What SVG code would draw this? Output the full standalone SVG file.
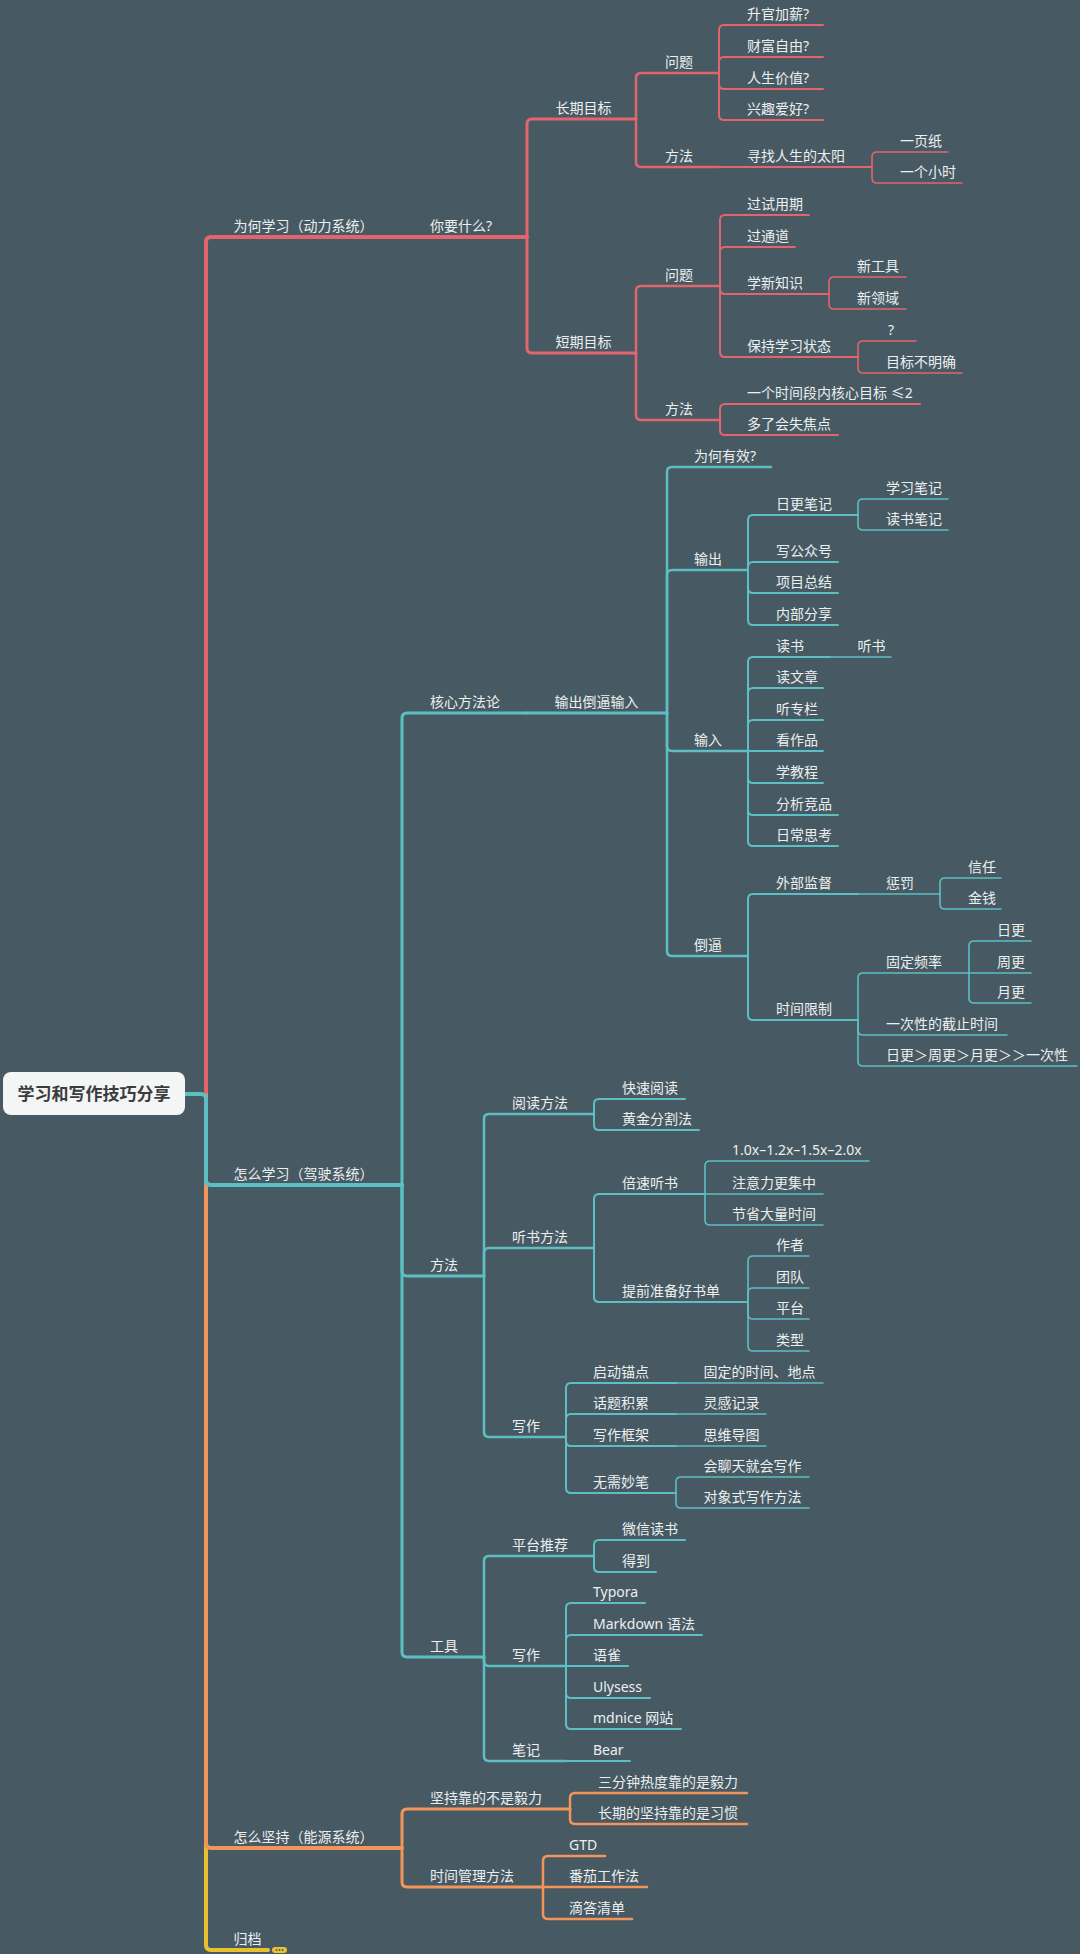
<svg xmlns="http://www.w3.org/2000/svg" width="1080" height="1954" viewBox="0 0 1080 1954">
<style>
path{fill:none;stroke-linecap:round;stroke-linejoin:round}
.r{stroke:#e2646c}.t{stroke:#5cbfc4}.o{stroke:#f2955c}.y{stroke:#e9c02f}
.w4{stroke-width:4}.w3{stroke-width:3}.w25{stroke-width:2.5}.w2{stroke-width:2}.w15{stroke-width:1.6}
text{font-family:"Noto Sans","Noto Sans CJK SC",sans-serif;font-size:14px;fill:#eceff0}
.root{font-size:17px;fill:#3a3d40;font-weight:bold;text-anchor:middle}
</style>
<rect width="1080" height="1954" fill="#475a63"/>
<g id="connectors">
<path class="y w4" d="M206 1094 V1945 Q206 1950 211 1950 H268"/>
<rect x="272" y="1947" width="15" height="6" rx="3" fill="#e9c02f"/>
<circle cx="276.5" cy="1950" r="0.9" fill="#475a63"/><circle cx="279.5" cy="1950" r="0.9" fill="#475a63"/><circle cx="282.5" cy="1950" r="0.9" fill="#475a63"/>
<path class="o w4" d="M206 1094 V1843 Q206 1848 211 1848 H402"/>
<path class="o w3" d="M402 1848 V1814 Q402 1809 407 1809 H570"/>
<path class="o w3" d="M402 1848 V1882 Q402 1887 407 1887 H543"/>
<path class="o w25" d="M570 1809 V1798 Q570 1793 575 1793 H747"/>
<path class="o w25" d="M570 1809 V1819 Q570 1824 575 1824 H747"/>
<path class="o w25" d="M543 1887 V1861 Q543 1856 548 1856 H605"/>
<path class="o w25" d="M543 1887 H647"/>
<path class="o w25" d="M543 1887 V1914 Q543 1919 548 1919 H632"/>
<path class="t w4" d="M185 1094 H201 Q206 1094 206 1099 V1180 Q206 1185 211 1185 H402"/>
<path class="t w3" d="M402 1185 V718 Q402 713 407 713 H527"/>
<path class="t w3" d="M402 1185 V1271 Q402 1276 407 1276 H484"/>
<path class="t w3" d="M402 1185 V1652 Q402 1657 407 1657 H484"/>
<path class="t w3" d="M527 713 H667"/>
<path class="t w25" d="M667 713 V472 Q667 467 672 467 H771"/>
<path class="t w25" d="M667 713 V575 Q667 570 672 570 H748"/>
<path class="t w25" d="M667 713 V746 Q667 751 672 751 H748"/>
<path class="t w25" d="M667 713 V951 Q667 956 672 956 H748"/>
<path class="t w2" d="M748 570 V520 Q748 515 753 515 H858"/>
<path class="t w2" d="M748 570 V567 Q748 562 753 562 H838"/>
<path class="t w2" d="M748 570 V588 Q748 593 753 593 H838"/>
<path class="t w2" d="M748 570 V620 Q748 625 753 625 H838"/>
<path class="t w15" d="M858 515 V504 Q858 499 863 499 H948"/>
<path class="t w15" d="M858 515 V525 Q858 530 863 530 H948"/>
<path class="t w2" d="M748 751 V662 Q748 657 753 657 H830"/>
<path class="t w15" d="M830 657 H891"/>
<path class="t w2" d="M748 751 V693 Q748 688 753 688 H823"/>
<path class="t w2" d="M748 751 V725 Q748 720 753 720 H823"/>
<path class="t w2" d="M748 751 H823"/>
<path class="t w2" d="M748 751 V778 Q748 783 753 783 H823"/>
<path class="t w2" d="M748 751 V810 Q748 815 753 815 H838"/>
<path class="t w2" d="M748 751 V841 Q748 846 753 846 H838"/>
<path class="t w2" d="M748 956 V899 Q748 894 753 894 H858"/>
<path class="t w15" d="M858 894 H940"/>
<path class="t w15" d="M940 894 V883 Q940 878 945 878 H1001"/>
<path class="t w15" d="M940 894 V904 Q940 909 945 909 H1001"/>
<path class="t w2" d="M748 956 V1015 Q748 1020 753 1020 H858"/>
<path class="t w15" d="M858 1020 V978 Q858 973 863 973 H969"/>
<path class="t w15" d="M858 1020 V1030 Q858 1035 863 1035 H1007"/>
<path class="t w15" d="M858 1020 V1061 Q858 1066 863 1066 H1077"/>
<path class="t w15" d="M969 973 V946 Q969 941 974 941 H1031"/>
<path class="t w15" d="M969 973 H1031"/>
<path class="t w15" d="M969 973 V998 Q969 1003 974 1003 H1031"/>
<path class="t w25" d="M484 1276 V1119 Q484 1114 489 1114 H594"/>
<path class="t w25" d="M484 1276 V1253 Q484 1248 489 1248 H594"/>
<path class="t w25" d="M484 1276 V1432 Q484 1437 489 1437 H566"/>
<path class="t w2" d="M594 1114 V1104 Q594 1099 599 1099 H685"/>
<path class="t w2" d="M594 1114 V1125 Q594 1130 599 1130 H699"/>
<path class="t w2" d="M594 1248 V1199 Q594 1194 599 1194 H705"/>
<path class="t w2" d="M594 1248 V1297 Q594 1302 599 1302 H748"/>
<path class="t w15" d="M705 1194 V1166 Q705 1161 710 1161 H869"/>
<path class="t w15" d="M705 1194 H823"/>
<path class="t w15" d="M705 1194 V1220 Q705 1225 710 1225 H823"/>
<path class="t w15" d="M748 1302 V1261 Q748 1256 753 1256 H809"/>
<path class="t w15" d="M748 1302 V1293 Q748 1288 753 1288 H809"/>
<path class="t w15" d="M748 1302 V1314 Q748 1319 753 1319 H809"/>
<path class="t w15" d="M748 1302 V1346 Q748 1351 753 1351 H809"/>
<path class="t w2" d="M566 1437 V1388 Q566 1383 571 1383 H676"/>
<path class="t w15" d="M676 1383 H823"/>
<path class="t w2" d="M566 1437 V1419 Q566 1414 571 1414 H676"/>
<path class="t w15" d="M676 1414 H766"/>
<path class="t w2" d="M566 1437 V1441 Q566 1446 571 1446 H676"/>
<path class="t w15" d="M676 1446 H766"/>
<path class="t w2" d="M566 1437 V1488 Q566 1493 571 1493 H676"/>
<path class="t w15" d="M676 1493 V1482 Q676 1477 681 1477 H809"/>
<path class="t w15" d="M676 1493 V1503 Q676 1508 681 1508 H809"/>
<path class="t w25" d="M484 1657 V1561 Q484 1556 489 1556 H594"/>
<path class="t w25" d="M484 1657 V1661 Q484 1666 489 1666 H566"/>
<path class="t w25" d="M484 1657 V1756 Q484 1761 489 1761 H566"/>
<path class="t w2" d="M566 1761 H630"/>
<path class="t w2" d="M594 1556 V1545 Q594 1540 599 1540 H685"/>
<path class="t w2" d="M594 1556 V1567 Q594 1572 599 1572 H656"/>
<path class="t w2" d="M566 1666 V1608 Q566 1603 571 1603 H645"/>
<path class="t w2" d="M566 1666 V1640 Q566 1635 571 1635 H702"/>
<path class="t w2" d="M566 1666 H628"/>
<path class="t w2" d="M566 1666 V1693 Q566 1698 571 1698 H650"/>
<path class="t w2" d="M566 1666 V1724 Q566 1729 571 1729 H681"/>
<path class="r w4" d="M206 1092 V242 Q206 237 211 237 H402"/>
<path class="r w4" d="M402 237 H527"/>
<path class="r w3" d="M527 237 V124 Q527 119 532 119 H636"/>
<path class="r w3" d="M527 237 V348 Q527 353 532 353 H636"/>
<path class="r w25" d="M636 119 V78 Q636 73 641 73 H719"/>
<path class="r w25" d="M636 119 V162 Q636 167 641 167 H719"/>
<path class="r w2" d="M719 73 V30 Q719 25 724 25 H823"/>
<path class="r w2" d="M719 73 V62 Q719 57 724 57 H823"/>
<path class="r w2" d="M719 73 V84 Q719 89 724 89 H823"/>
<path class="r w2" d="M719 73 V115 Q719 120 724 120 H823"/>
<path class="r w2" d="M719 167 H872"/>
<path class="r w15" d="M872 167 V157 Q872 152 877 152 H948"/>
<path class="r w15" d="M872 167 V178 Q872 183 877 183 H962"/>
<path class="r w25" d="M636 353 V291 Q636 286 641 286 H720"/>
<path class="r w25" d="M636 353 V415 Q636 420 641 420 H720"/>
<path class="r w2" d="M720 286 V220 Q720 215 725 215 H809"/>
<path class="r w2" d="M720 286 V252 Q720 247 725 247 H795"/>
<path class="r w2" d="M720 286 V289 Q720 294 725 294 H829"/>
<path class="r w2" d="M720 286 V352 Q720 357 725 357 H858"/>
<path class="r w15" d="M829 294 V282 Q829 277 834 277 H906"/>
<path class="r w15" d="M829 294 V304 Q829 309 834 309 H906"/>
<path class="r w15" d="M858 357 V346 Q858 341 863 341 H916"/>
<path class="r w15" d="M858 357 V368 Q858 373 863 373 H962"/>
<path class="r w2" d="M720 420 V409 Q720 404 725 404 H920"/>
<path class="r w2" d="M720 420 V430 Q720 435 725 435 H838"/>
</g>
<g id="root"><rect x="3" y="1072" width="182" height="43" rx="8" fill="#f4f5f5"/><text class="root" x="94" y="1100">学习和写作技巧分享</text></g>
<g id="n-why"><text x="233.5" y="231">为何学习（动力系统）</text></g>
<g id="n-want"><text x="430" y="231">你要什么?</text></g>
<g id="n-long"><text x="555.5" y="113">长期目标</text></g>
<g id="n-long-q"><text x="665" y="67">问题</text></g>
<g id="n-lq1"><text x="747" y="19">升官加薪?</text></g>
<g id="n-lq2"><text x="747" y="51">财富自由?</text></g>
<g id="n-lq3"><text x="747" y="83">人生价值?</text></g>
<g id="n-lq4"><text x="747" y="114">兴趣爱好?</text></g>
<g id="n-long-m"><text x="665" y="161">方法</text></g>
<g id="n-sun"><text x="747" y="161">寻找人生的太阳</text></g>
<g id="n-paper"><text x="900" y="146">一页纸</text></g>
<g id="n-hour"><text x="900" y="177">一个小时</text></g>
<g id="n-short"><text x="555.5" y="347">短期目标</text></g>
<g id="n-short-q"><text x="665" y="280">问题</text></g>
<g id="n-sq1"><text x="747" y="209">过试用期</text></g>
<g id="n-sq2"><text x="747" y="241">过通道</text></g>
<g id="n-sq3"><text x="747" y="288">学新知识</text></g>
<g id="n-tool"><text x="857" y="271">新工具</text></g>
<g id="n-field"><text x="857" y="303">新领域</text></g>
<g id="n-sq4"><text x="747" y="351">保持学习状态</text></g>
<g id="n-qm"><text x="888" y="335">?</text></g>
<g id="n-unclear"><text x="886" y="367">目标不明确</text></g>
<g id="n-short-m"><text x="665" y="414">方法</text></g>
<g id="n-sm1"><text x="747" y="398">一个时间段内核心目标 ≤2</text></g>
<g id="n-sm2"><text x="747" y="429">多了会失焦点</text></g>
<g id="n-how"><text x="233.5" y="1179">怎么学习（驾驶系统）</text></g>
<g id="n-core"><text x="430" y="707">核心方法论</text></g>
<g id="n-oi"><text x="554.5" y="707">输出倒逼输入</text></g>
<g id="n-whyeff"><text x="694" y="461">为何有效?</text></g>
<g id="n-out"><text x="694" y="564">输出</text></g>
<g id="n-daily"><text x="776" y="509">日更笔记</text></g>
<g id="n-study"><text x="886" y="493">学习笔记</text></g>
<g id="n-bookn"><text x="886" y="524">读书笔记</text></g>
<g id="n-wx"><text x="776" y="556">写公众号</text></g>
<g id="n-proj"><text x="776" y="587">项目总结</text></g>
<g id="n-share"><text x="776" y="619">内部分享</text></g>
<g id="n-in"><text x="694" y="745">输入</text></g>
<g id="n-read"><text x="776" y="651">读书</text></g>
<g id="n-listen"><text x="857.5" y="651">听书</text></g>
<g id="n-article"><text x="776" y="682">读文章</text></g>
<g id="n-column"><text x="776" y="714">听专栏</text></g>
<g id="n-works"><text x="776" y="745">看作品</text></g>
<g id="n-tut"><text x="776" y="777">学教程</text></g>
<g id="n-comp"><text x="776" y="809">分析竞品</text></g>
<g id="n-think"><text x="776" y="840">日常思考</text></g>
<g id="n-force"><text x="694" y="950">倒逼</text></g>
<g id="n-ext"><text x="776" y="888">外部监督</text></g>
<g id="n-punish"><text x="886" y="888">惩罚</text></g>
<g id="n-trust"><text x="968" y="872">信任</text></g>
<g id="n-money"><text x="968" y="903">金钱</text></g>
<g id="n-limit"><text x="776" y="1014">时间限制</text></g>
<g id="n-freq"><text x="886" y="967">固定频率</text></g>
<g id="n-d"><text x="997" y="935">日更</text></g>
<g id="n-w"><text x="997" y="967">周更</text></g>
<g id="n-m"><text x="997" y="997">月更</text></g>
<g id="n-once"><text x="886" y="1029">一次性的截止时间</text></g>
<g id="n-order"><text x="886" y="1060">日更＞周更＞月更＞＞一次性</text></g>
<g id="n-method"><text x="430" y="1270">方法</text></g>
<g id="n-readm"><text x="512" y="1108">阅读方法</text></g>
<g id="n-fast"><text x="622" y="1093">快速阅读</text></g>
<g id="n-gold"><text x="622" y="1124">黄金分割法</text></g>
<g id="n-listenm"><text x="512" y="1242">听书方法</text></g>
<g id="n-speed"><text x="622" y="1188">倍速听书</text></g>
<g id="n-rate"><text x="732" y="1155">1.0x–1.2x–1.5x–2.0x</text></g>
<g id="n-focus"><text x="732" y="1188">注意力更集中</text></g>
<g id="n-save"><text x="732" y="1219">节省大量时间</text></g>
<g id="n-list"><text x="622" y="1296">提前准备好书单</text></g>
<g id="n-author"><text x="776" y="1250">作者</text></g>
<g id="n-team"><text x="776" y="1282">团队</text></g>
<g id="n-plat"><text x="776" y="1313">平台</text></g>
<g id="n-type"><text x="776" y="1345">类型</text></g>
<g id="n-write"><text x="512" y="1431">写作</text></g>
<g id="n-anchor"><text x="593" y="1377">启动锚点</text></g>
<g id="n-fixed"><text x="703.6" y="1377">固定的时间、地点</text></g>
<g id="n-topic"><text x="593" y="1408">话题积累</text></g>
<g id="n-insp"><text x="703.6" y="1408">灵感记录</text></g>
<g id="n-frame"><text x="593" y="1440">写作框架</text></g>
<g id="n-mind"><text x="703.6" y="1440">思维导图</text></g>
<g id="n-nopen"><text x="593" y="1487">无需妙笔</text></g>
<g id="n-chat"><text x="703.6" y="1471">会聊天就会写作</text></g>
<g id="n-obj"><text x="703.6" y="1502">对象式写作方法</text></g>
<g id="n-tools"><text x="430" y="1651">工具</text></g>
<g id="n-platrec"><text x="512" y="1550">平台推荐</text></g>
<g id="n-wxread"><text x="622" y="1534">微信读书</text></g>
<g id="n-dedao"><text x="622" y="1566">得到</text></g>
<g id="n-writet"><text x="512" y="1660">写作</text></g>
<g id="n-typora"><text x="593" y="1597">Typora</text></g>
<g id="n-md"><text x="593" y="1629">Markdown 语法</text></g>
<g id="n-yuque"><text x="593" y="1660">语雀</text></g>
<g id="n-ulysess"><text x="593" y="1692">Ulysess</text></g>
<g id="n-mdnice"><text x="593" y="1723">mdnice 网站</text></g>
<g id="n-note"><text x="512" y="1755">笔记</text></g>
<g id="n-bear"><text x="593" y="1755">Bear</text></g>
<g id="n-keep"><text x="233.5" y="1842">怎么坚持（能源系统）</text></g>
<g id="n-notwill"><text x="430" y="1803">坚持靠的不是毅力</text></g>
<g id="n-3min"><text x="598" y="1787">三分钟热度靠的是毅力</text></g>
<g id="n-habit"><text x="598" y="1818">长期的坚持靠的是习惯</text></g>
<g id="n-time"><text x="430" y="1881">时间管理方法</text></g>
<g id="n-gtd"><text x="569" y="1850">GTD</text></g>
<g id="n-pomo"><text x="569" y="1881">番茄工作法</text></g>
<g id="n-tick"><text x="569" y="1913">滴答清单</text></g>
<g id="n-archive"><text x="233.5" y="1944">归档</text></g>
</svg>
